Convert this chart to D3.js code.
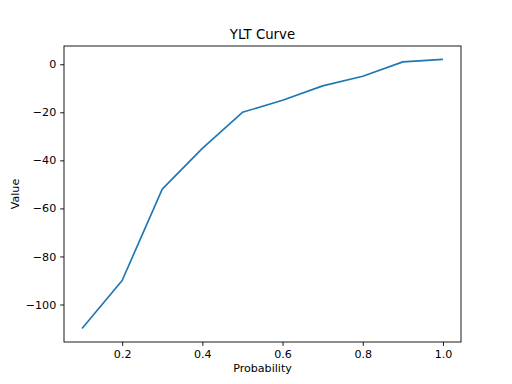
<!DOCTYPE html>
<html>
<head>
<meta charset="utf-8">
<script src="https://cdn.jsdelivr.net/npm/d3@7"></script>
<style>
  body { margin: 0; background: #fff; }
  text { font-family: "DejaVu Sans", sans-serif; fill: #000; }
</style>
</head>
<body>
<div id="chart"></div>
<script>
// YLT curve: value by probability
const probabilities = [0.1, 0.2, 0.3, 0.4, 0.5, 0.6, 0.7, 0.8, 0.9, 1.0];
const values = [-110, -90, -52, -35, -20, -15, -9, -5, 1, 2];
const xTicks = [0.2, 0.4, 0.6, 0.8, 1.0];
const yTicks = [0, -20, -40, -60, -80, -100];

const data = probabilities.map((p, i) => ({ p: p, v: values[i] }));

const margin = { top: 46, right: 51, bottom: 42, left: 64 },
      width = 512 - margin.left - margin.right,
      height = 384 - margin.top - margin.bottom;

const svg = d3.select("#chart")
  .append("svg")
  .attr("width", 512)
  .attr("height", 384)
  .append("g")
  .attr("transform", `translate(${margin.left},${margin.top})`);

// matplotlib-like 5% padding on both axes
const xPad = (d3.max(probabilities) - d3.min(probabilities)) * 0.05;
const yPad = (d3.max(values) - d3.min(values)) * 0.05;

const x = d3.scaleLinear()
  .domain([d3.min(probabilities) - xPad, d3.max(probabilities) + xPad])
  .range([0, width]);

const y = d3.scaleLinear()
  .domain([d3.min(values) - yPad, d3.max(values) + yPad])
  .range([height, 0]);

// axes
const xAxis = svg.append("g")
  .attr("transform", `translate(0,${height})`)
  .call(d3.axisBottom(x).tickValues(xTicks).tickFormat(d3.format(".1f")).tickSizeInner(3.9).tickSizeOuter(0).tickPadding(3.9));

const yAxis = svg.append("g")
  .call(d3.axisLeft(y).tickValues(yTicks).tickFormat(d => d < 0 ? "\u2212" + Math.abs(d) : d).tickSizeInner(3.9).tickSizeOuter(0).tickPadding(3.9));

[xAxis, yAxis].forEach(a => {
  a.select(".domain").remove();
  a.selectAll(".tick line").attr("stroke", "#000").attr("stroke-width", 0.9);
  a.selectAll(".tick text").style("font-size", "11.1px").style("font-family", "DejaVu Sans");
});

// frame
svg.append("rect")
  .attr("width", width)
  .attr("height", height)
  .attr("fill", "none")
  .attr("stroke", "#000")
  .attr("stroke-width", 0.9);

// line
svg.append("path")
  .datum(data)
  .attr("fill", "none")
  .attr("stroke", "#1f77b4")
  .attr("stroke-width", 1.67)
  .attr("stroke-linejoin", "round")
  .attr("d", d3.line().x(d => x(d.p)).y(d => y(d.v)));

// title
svg.append("text")
  .attr("x", width / 2)
  .attr("y", -6.7)
  .attr("text-anchor", "middle")
  .style("font-size", "13.3px")
  .text("YLT Curve");

// x label
svg.append("text")
  .attr("x", width / 2)
  .attr("y", height + 30)
  .attr("text-anchor", "middle")
  .style("font-size", "11.1px")
  .text("Probability");

// y label
svg.append("text")
  .attr("transform", "rotate(-90)")
  .attr("x", -height / 2)
  .attr("y", -45)
  .attr("text-anchor", "middle")
  .style("font-size", "11.1px")
  .text("Value");
</script>
</body>
</html>
